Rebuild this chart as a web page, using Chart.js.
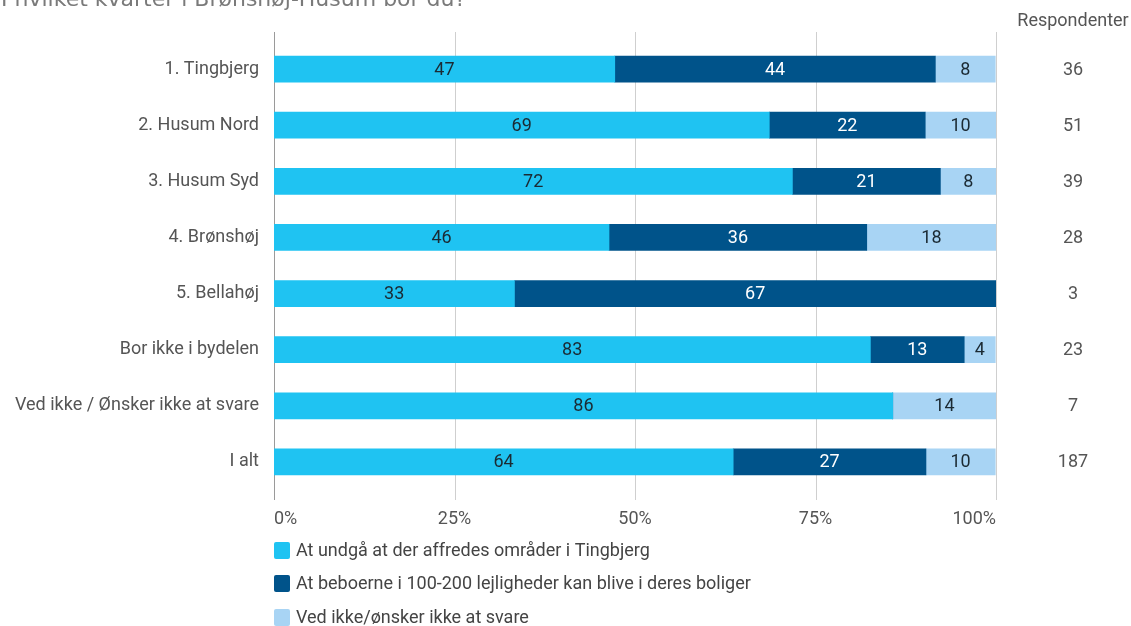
<!DOCTYPE html>
<html>
<head>
<meta charset="utf-8">
<script src="https://cdn.jsdelivr.net/npm/chart.js@4"></script>
<style>
  html, body { margin: 0; padding: 0; background: #fff; }
  #wrap { position: relative; width: 1131px; height: 626px; }
</style>
</head>
<body>
<div id="wrap"><canvas id="chart" width="1131" height="626"></canvas></div>
<script>
const title = "I hvilket kvarter i Brønshøj-Husum bor du?";
const categories = [
  "1. Tingbjerg", "2. Husum Nord", "3. Husum Syd", "4. Brønshøj",
  "5. Bellahøj", "Bor ikke i bydelen", "Ved ikke / Ønsker ikke at svare", "I alt"
];
const seriesNames = [
  "At undgå at der affredes områder i Tingbjerg",
  "At beboerne i 100-200 lejligheder kan blive i deres boliger",
  "Ved ikke/ønsker ikke at svare"
];
// shares in percent
const avoid = [47.2, 68.6, 71.8, 46.4, 33.3, 82.6, 85.7, 63.6];
const stay = [44.4, 21.6, 20.5, 35.7, 66.7, 13.0, 0, 26.7];
const dontKnow = [8.3, 9.8, 7.7, 17.9, 0, 4.3, 14.3, 9.6];
const respondents = [36, 51, 39, 28, 3, 23, 7, 187];
const xTicks = [0, 25, 50, 75, 100];

const colors = ["#1fc3f2", "#00538a", "#a8d4f4"];
const labelColors = ["#1b2a33", "#ffffff", "#1b2a33"];
const FONT = "Roboto, 'Noto Sans', sans-serif";

// gridlines from the x scale, taller than the plot area
const gridPlugin = {
  id: "grid",
  beforeDatasetsDraw(chart) {
    const { ctx, scales: { x } } = chart;
    ctx.save();
    xTicks.forEach(v => {
      const px = Math.round(x.getPixelForValue(v)) + 0.5;
      ctx.strokeStyle = v === 0 ? "#9a9a9a" : "#cfcfcf";
      ctx.lineWidth = 1;
      ctx.beginPath();
      ctx.moveTo(px, 32);
      ctx.lineTo(px, 500);
      ctx.stroke();
    });
    ctx.restore();
  }
};

// value labels, respondent column, title and legend
const textPlugin = {
  id: "texts",
  afterDatasetsDraw(chart) {
    const { ctx, scales: { y } } = chart;
    ctx.save();
    ctx.font = "18px " + FONT;
    ctx.textAlign = "center";
    ctx.textBaseline = "middle";
    chart.data.datasets.forEach((ds, i) => {
      chart.getDatasetMeta(i).data.forEach((bar, j) => {
        const v = ds.data[j];
        if (!v) return;
        ctx.fillStyle = labelColors[i];
        ctx.fillText(Math.round(v), (bar.x + bar.base) / 2, bar.y + 1);
      });
    });

    ctx.fillStyle = "#555";
    ctx.fillText("Respondenter", 1073, 21);
    respondents.forEach((n, j) => {
      ctx.fillText(n, 1073, y.getPixelForValue(j) + 1);
    });

    ctx.textAlign = "left";
    ctx.font = "22px 'DejaVu Sans', Verdana, sans-serif";
    ctx.fillStyle = "#7a7a7a";
    ctx.textBaseline = "alphabetic";
    ctx.fillText(title, 1, 6);

    ctx.font = "18px " + FONT;
    ctx.textBaseline = "middle";
    const rows = [550, 583, 617];
    seriesNames.forEach((name, i) => {
      ctx.fillStyle = colors[i];
      ctx.beginPath();
      ctx.roundRect(274, rows[i] - 8, 16, 17, 2);
      ctx.fill();
      ctx.fillStyle = "#444";
      ctx.fillText(name, 296, rows[i] + 1);
    });
    ctx.restore();
  }
};

new Chart(document.getElementById("chart"), {
  type: "bar",
  data: {
    labels: categories,
    datasets: [
      { label: seriesNames[0], data: avoid, backgroundColor: colors[0] },
      { label: seriesNames[1], data: stay, backgroundColor: colors[1] },
      { label: seriesNames[2], data: dontKnow, backgroundColor: colors[2] }
    ]
  },
  options: {
    indexAxis: "y",
    responsive: false,
    animation: false,
    barThickness: 26,
    layout: { padding: { top: 41, right: 135, left: 0, bottom: 0 } },
    plugins: { legend: { display: false }, tooltip: { enabled: false } },
    scales: {
      x: {
        stacked: true,
        min: 0,
        max: 100,
        afterBuildTicks(scale) { scale.ticks = xTicks.map(v => ({ value: v })); },
        afterFit(scale) { scale.height = 626 - 490; },
        grid: { display: false, drawTicks: false },
        border: { display: false },
        ticks: {
          padding: 19,
          align: "inner",
          color: "#555",
          font: { family: FONT, size: 18 },
          callback: v => v + "%"
        }
      },
      y: {
        stacked: true,
        afterFit(scale) { scale.width = 274; },
        grid: { display: false, drawTicks: false },
        border: { display: false },
        ticks: {
          padding: 15,
          color: "#555",
          font: { family: FONT, size: 18 }
        }
      }
    }
  },
  plugins: [gridPlugin, textPlugin]
});
</script>
</body>
</html>
